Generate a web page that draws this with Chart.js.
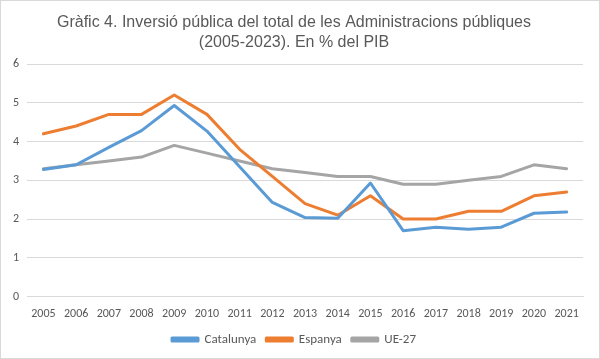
<!DOCTYPE html>
<html>
<head>
<meta charset="utf-8">
<script src="https://cdn.jsdelivr.net/npm/chart.js@4"></script>
<style>
  html, body { margin: 0; padding: 0; background: #fff; }
  .caixa { position: relative; width: 598px; height: 357px; border: 1px solid #d9d9d9; }
</style>
</head>
<body>
<div class="caixa"><canvas id="graficoInversio"></canvas></div>
<script>
const anys = ['2005', '2006', '2007', '2008', '2009', '2010', '2011', '2012', '2013',
              '2014', '2015', '2016', '2017', '2018', '2019', '2020', '2021'];
const catalunya = [3.28, 3.4, 3.85, 4.28, 4.93, 4.27, 3.35, 2.43, 2.04, 2.02, 2.93, 1.7, 1.79, 1.74, 1.79, 2.15, 2.18];
const espanya = [4.2, 4.4, 4.7, 4.7, 5.2, 4.7, 3.8, 3.1, 2.4, 2.1, 2.6, 2.0, 2.0, 2.2, 2.2, 2.6, 2.7];
const ue27 = [3.3, 3.4, 3.5, 3.6, 3.9, 3.7, 3.5, 3.3, 3.2, 3.1, 3.1, 2.9, 2.9, 3.0, 3.1, 3.4, 3.3];

const ctxInversio = document.getElementById('graficoInversio');

new Chart(ctxInversio, {
    type: 'line',
    data: {
        labels: anys,
        datasets: [{
            label: 'Catalunya',
            data: catalunya,
            borderColor: '#5B9BD5',
            backgroundColor: '#5B9BD5'
        }, {
            label: 'Espanya',
            data: espanya,
            borderColor: '#ED7D31',
            backgroundColor: '#ED7D31'
        }, {
            label: 'UE-27',
            data: ue27,
            borderColor: '#A5A5A5',
            backgroundColor: '#A5A5A5'
        }]
    },
    options: {
        responsive: true,
        maintainAspectRatio: false,
        animation: false,
        layout: { padding: { left: 4, right: 16, top: 8, bottom: 2 } },
        elements: {
            line: { borderWidth: 3, tension: 0, borderCapStyle: 'round', borderJoinStyle: 'round' },
            point: { radius: 0 }
        },
        scales: {
            x: {
                offset: true,
                grid: { display: false },
                border: { display: true, color: '#d9d9d9' },
                ticks: { color: '#595959', font: { family: 'Carlito, Calibri, "Liberation Sans Narrow", sans-serif', size: 12 }, maxRotation: 0, autoSkip: false, padding: 2 }
            },
            y: {
                min: 0,
                max: 6,
                grid: { color: '#d9d9d9', drawTicks: false },
                border: { display: false },
                ticks: { stepSize: 1, color: '#595959', font: { family: 'Carlito, Calibri, "Liberation Sans Narrow", sans-serif', size: 12 }, padding: 8 }
            }
        },
        plugins: {
            title: {
                display: true,
                text: ['Gràfic 4. Inversió pública del total de les Administracions públiques', '(2005-2023). En % del PIB'],
                color: '#595959',
                font: { family: '"Liberation Sans Narrow", "Arial Narrow", sans-serif', size: 16, weight: 'normal', lineHeight: 1.25 },
                padding: { top: 4, bottom: 11 }
            },
            legend: {
                position: 'bottom',
                labels: {
                    color: '#595959',
                    font: { family: 'Carlito, Calibri, "Liberation Sans Narrow", sans-serif', size: 13 },
                    boxWidth: 26,
                    boxHeight: 3,
                    padding: 10
                }
            }
        }
    }
});
</script>
</body>
</html>
